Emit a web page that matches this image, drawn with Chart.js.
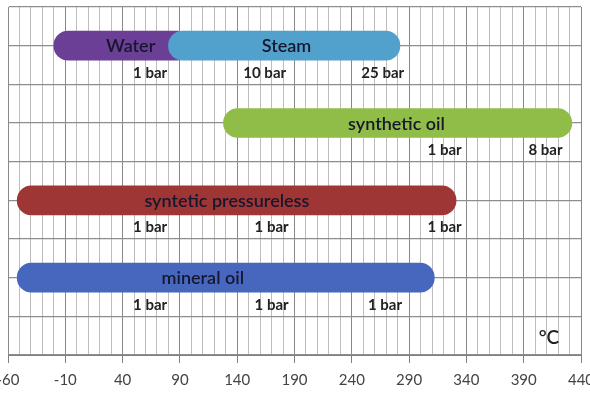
<!DOCTYPE html>
<html>
<head>
<meta charset="utf-8">
<script src="https://cdn.jsdelivr.net/npm/chart.js@4/dist/chart.umd.min.js"></script>
<style>
    body { margin: 0; background: #fff; }
    #wrap { width: 590px; height: 410px; position: relative; }
</style>
</head>
<body>
<div id="wrap"><canvas id="rangeChart"></canvas></div>
<script>
// Operating ranges of heat transfer media (°C)
const categories = ['Water', 'Steam', 'synthetic oil', 'syntetic pressureless', 'mineral oil'];
const rowOf = [1, 1, 3, 5, 7];
const tempFrom = [-20, 80, 128, -52, -52];
const tempTo = [100, 282, 432, 331, 312];
const labelAt = [47, 183, 279, 131, 110];
const barColors = ['#6b3f96', '#52a0cc', '#8fbd47', '#9f3636', '#4767bf'];

// pressure notes under each row
const pressureRows = [1, 3, 5, 7];
const pressureText = [['1 bar', '10 bar', '25 bar'], ['1 bar', '8 bar'], ['1 bar', '1 bar', '1 bar'], ['1 bar', '1 bar', '1 bar']];
const pressureAt = [[64, 164, 267], [321, 409], [64, 170, 321], [64, 170, 269]];

const rowLabels = ['0', '1', '2', '3', '4', '5', '6', '7', '8', '9'];
const xMin = -60, xMax = 440;

var datasets = categories.map(function (name, i) {
    var d = rowLabels.map(function () { return null; });
    d[rowOf[i]] = [tempFrom[i], tempTo[i]];
    return {
        label: name,
        data: d,
        backgroundColor: barColors[i],
        borderRadius: 15,
        borderSkipped: false,
        barThickness: 29,
        grouped: false,
        order: i === 0 ? 1 : 0
    };
});

const textPlugin = {
    id: 'textPlugin',
    afterDatasetsDraw: function (chart) {
        const ctx = chart.ctx;
        const xs = chart.scales.x, ys = chart.scales.y;
        const rowH = ys.getPixelForValue(1) - ys.getPixelForValue(0);
        ctx.save();
        ctx.textAlign = 'center';
        ctx.textBaseline = 'middle';
        ctx.fillStyle = '#16162e';
        ctx.font = '600 18px Lato';
        categories.forEach(function (name, i) {
            ctx.fillText(name, xs.getPixelForValue(labelAt[i]), ys.getPixelForValue(rowOf[i]) + 1);
        });
        ctx.fillStyle = '#222';
        ctx.font = 'bold 15px Lato';
        pressureRows.forEach(function (r, j) {
            pressureText[j].forEach(function (t, k) {
                ctx.fillText(t, xs.getPixelForValue(pressureAt[j][k]), ys.getPixelForValue(r) + rowH * 0.7);
            });
        });
        ctx.font = '600 19px Lato';
        ctx.fillText('°C', xs.getPixelForValue(412), ys.getPixelForValue(8) + rowH * 0.55);
        ctx.restore();
    }
};

var ctx = document.getElementById('rangeChart').getContext('2d');
var rangeChart = new Chart(ctx, {
    type: 'bar',
    data: {
        labels: rowLabels,
        datasets: datasets
    },
    options: {
        indexAxis: 'y',
        responsive: true,
        maintainAspectRatio: false,
        animation: false,
        layout: { padding: { left: 8, right: 9, top: 7, bottom: 0 } },
        scales: {
            x: {
                type: 'linear',
                min: xMin,
                max: xMax,
                afterFit: function (scale) {
                    scale.paddingLeft = 0;
                    scale.paddingRight = 0;
                    scale.height = 55;
                },
                ticks: {
                    stepSize: 10,
                    autoSkip: false,
                    maxRotation: 0,
                    padding: 8,
                    color: '#444',
                    font: { family: 'Lato', size: 15 },
                    callback: function (v) {
                        return (v - xMin) % 50 === 0 ? String(v) : '';
                    }
                },
                grid: {
                    color: function (c) {
                        return c.tick && (c.tick.value - xMin) % 50 === 0 ? '#888' : '#bdbdbd';
                    },
                    tickColor: function (c) {
                        return c.tick && (c.tick.value - xMin) % 50 === 0 ? '#808080' : 'rgba(0,0,0,0)';
                    },
                    tickLength: 8
                },
                border: { color: '#808080' }
            },
            y: {
                type: 'category',
                offset: false,
                afterFit: function (scale) { scale.width = 0; },
                ticks: { display: false },
                grid: { offset: false, color: '#8e8e8e', lineWidth: 1.3, drawTicks: false },
                border: { color: '#8a8a8a' }
            }
        },
        plugins: {
            legend: { display: false },
            tooltip: { enabled: false }
        }
    },
    plugins: [textPlugin]
});
</script>
</body>
</html>
